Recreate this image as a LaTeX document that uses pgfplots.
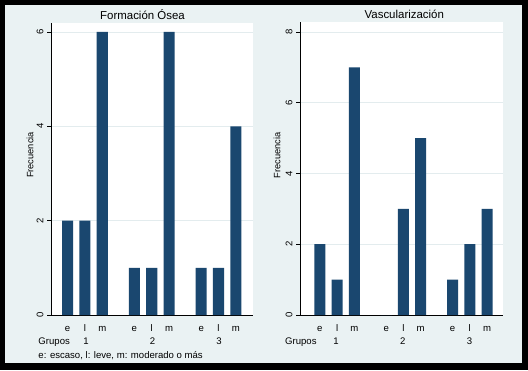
\documentclass[border=0pt]{standalone}
\usepackage{fontspec}
\setmainfont{Liberation Sans}
\usepackage{pgfplots}
\pgfplotsset{compat=1.18}
\definecolor{bgc}{HTML}{EAF2F3}
\definecolor{grd}{HTML}{E3ECEE}
\definecolor{navy}{HTML}{1A476F}
\pgfplotsset{
  stpanel/.style={
    scale only axis,
    axis x line=bottom, axis y line=left,
    axis line style={black, line width=0.9bp, -},
    axis background/.style={fill=white},
    xtick={0,1,2,3.855,4.855,5.855,7.71,8.71,9.71},
    xticklabels={e,l,m,e,l,m,e,l,m},
    x tick label style={font=\fontsize{9.6}{10}\selectfont, anchor=base, yshift=-12.5bp},
    major x tick style={draw=none},
    tick align=outside,
    major tick length=4bp,
    y tick style={black, line width=0.7bp},
    ymajorgrids,
    grid style={grd, line width=0.8bp},
    ymin=0,
    /pgf/number format/assume math mode=true,
    yticklabel style={rotate=90, anchor=south, font=\fontsize{9.6}{10}\selectfont},
    ybar, bar width=0.64,
    clip=false,
  }
}
\begin{document}
\begin{tikzpicture}[x=1bp,y=1bp]
\useasboundingbox (0,0) rectangle (528,370);
\fill[black] (0,0) rectangle (528,370);
\fill[bgc] (5,7) rectangle (522,365);

% Left panel
\begin{axis}[stpanel, at={(51bp,55bp)}, anchor=south west,
  width=202bp, height=292bp,
  xmin=-0.957, xmax=10.70, ymax=6.19, ytick={0,2,4,6}]
\addplot[fill=navy, draw=none] coordinates {
  (0,2) (1,2) (2,6) (3.855,1) (4.855,1) (5.855,6) (7.71,1) (8.71,1) (9.71,4)};
\end{axis}

% Right panel
\begin{axis}[stpanel, at={(300bp,55bp)}, anchor=south west,
  width=203bp, height=293bp,
  xmin=-1.156, xmax=10.64, ymax=8.28, ytick={0,2,4,6,8}]
\addplot[fill=navy, draw=none] coordinates {
  (0,2) (1,1) (2,7) (3.855,0) (4.855,3) (5.855,5) (7.71,1) (8.71,2) (9.71,3)};
\end{axis}

% Titles
\node[anchor=base, font=\fontsize{11.5}{12}\selectfont] at (142.5,351) {Formación Ósea};
\node[anchor=base, font=\fontsize{11.5}{12}\selectfont] at (404.3,352) {Vascularización};

% Y labels
\node[rotate=90, font=\fontsize{9.3}{10}\selectfont] at (30,215) {Frecuencia};
\node[rotate=90, font=\fontsize{9.3}{10}\selectfont] at (277,214.5) {Frecuencia};

% Group rows
\begin{scope}[every node/.style={font=\fontsize{9.6}{10}\selectfont, inner sep=0pt}]
\node[anchor=base west] at (38.3,25.5) {Grupos};
\node[anchor=base] at (86,25.5) {1};
\node[anchor=base] at (152.5,25.5) {2};
\node[anchor=base] at (219,25.5) {3};
\node[anchor=base west] at (38.3,12) {e: escaso, l: leve, m: moderado o más};
\node[anchor=base west] at (285,25.5) {Grupos};
\node[anchor=base] at (336,25.5) {1};
\node[anchor=base] at (402.7,25.5) {2};
\node[anchor=base] at (469.5,25.5) {3};
\end{scope}
\end{tikzpicture}
\end{document}
